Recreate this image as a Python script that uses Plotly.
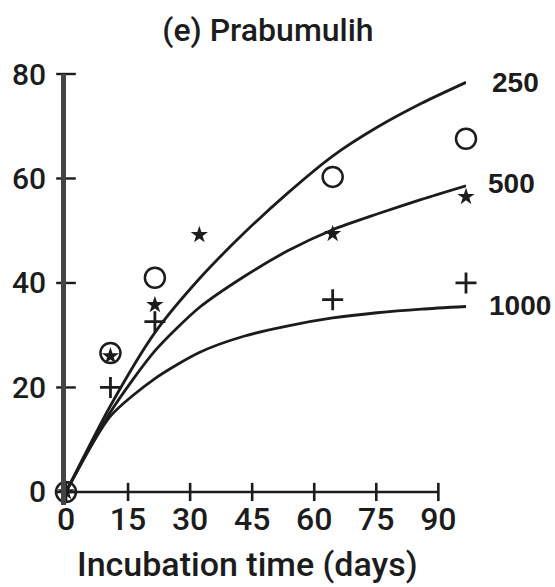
import plotly.graph_objects as go

# ---- data ----
OBS_DAYS = [0, 10, 20, 30, 60, 90]
OBS_250 = [0, 26.6, 41.0, None, 60.3, 67.6]
OBS_500 = [0, 26.0, 35.8, 49.2, 49.4, 56.5]
OBS_1000 = [0, 20.0, 32.6, None, 36.8, 40.0]

FIT_DAYS = [0, 10, 20, 30, 40, 50, 60, 70, 80, 90]
FIT_250 = [0, 16.5, 30.5, 40.8, 49.5, 57.3, 64.3, 69.8, 74.4, 78.4]
FIT_500 = [0, 15.3, 27.0, 35.3, 41.2, 46.2, 50.2, 53.2, 56.0, 58.6]
FIT_1000 = [0, 14.5, 21.7, 26.7, 29.8, 31.8, 33.3, 34.3, 35.0, 35.5]

X_TICKS = [0, 15, 30, 45, 60, 75, 90]
Y_TICKS = [0, 20, 40, 60, 80]
CURVE_LABELS = ["250", "500", "1000"]
TITLE = "(e) Prabumulih"
X_TITLE = "Incubation time (days)"

# ---- layout geometry ----
W, H = 555, 587
ML, MR, MT, MB = 61, 89, 74, 82
PW = W - ML - MR
PH = H - MT - MB
INK = "#1c1c1c"
FONT = "Roboto, Liberation Sans, Arial, sans-serif"
FONT_B = "Liberation Sans, Arial, sans-serif"


def px_x(p):
    return (p - ML) / PW


def px_y(p):
    return (H - MB - p) / PH


fig = go.Figure()

# fitted curves
for ys in (FIT_250, FIT_500, FIT_1000):
    fig.add_trace(go.Scatter(
        x=FIT_DAYS, y=ys, mode="lines",
        line=dict(color=INK, width=2.8, shape="spline", smoothing=0.7),
        hoverinfo="skip", showlegend=False, cliponaxis=False))

# observations
fig.add_trace(go.Scatter(
    x=OBS_DAYS, y=OBS_250, mode="markers",
    marker=dict(symbol="circle-open", size=20, color=INK, line=dict(width=2.5, color=INK)),
    showlegend=False, cliponaxis=False))
fig.add_trace(go.Scatter(
    x=OBS_DAYS, y=OBS_500, mode="markers",
    marker=dict(symbol="star", size=13, color=INK, line=dict(width=0)),
    showlegend=False, cliponaxis=False))
fig.add_trace(go.Scatter(
    x=OBS_DAYS, y=OBS_1000, mode="markers",
    marker=dict(symbol="cross-thin-open", size=15, color=INK, line=dict(width=2.8, color=INK)),
    showlegend=False, cliponaxis=False))

# drawn x axis (its own tick scale) and tick marks
fig.add_trace(go.Scatter(
    x=[X_TICKS[0], X_TICKS[-1]], y=[0, 0], xaxis="x2", yaxis="y", mode="lines",
    line=dict(color=INK, width=2.6), hoverinfo="skip", showlegend=False, cliponaxis=False))
fig.add_trace(go.Scatter(
    x=X_TICKS[1:], y=[0] * (len(X_TICKS) - 1), xaxis="x2", yaxis="y", mode="markers",
    marker=dict(symbol="line-ns-open", size=13, color=INK, line=dict(width=2.6, color=INK)),
    hoverinfo="skip", showlegend=False, cliponaxis=False))
# y tick marks crossing the axis
fig.add_trace(go.Scatter(
    x=[0] * (len(Y_TICKS) - 1), y=Y_TICKS[1:], mode="markers",
    marker=dict(symbol="line-ew-open", size=14, color=INK, line=dict(width=2.4, color=INK)),
    hoverinfo="skip", showlegend=False, cliponaxis=False))

x2_max = 90 * PW / (438 - ML)

fig.update_layout(
    width=W, height=H,
    margin=dict(l=ML, r=MR, t=MT, b=MB, pad=0),
    paper_bgcolor="white", plot_bgcolor="white",
    font=dict(family=FONT, color=INK),
    title=dict(text=TITLE, x=268 / W, xanchor="center", xref="container",
               y=1 - 30 / H, yanchor="middle", yref="container",
               font=dict(size=32, family=FONT, color=INK, weight=500)),
    xaxis=dict(range=[0, 90], showgrid=False, zeroline=False, showline=False,
               showticklabels=False, ticks=""),
    xaxis2=dict(range=[0, x2_max], overlaying="x", anchor="free", position=px_y(492),
                tickvals=X_TICKS, ticks="", showline=False, showgrid=False, zeroline=False,
                tickfont=dict(size=32, family=FONT, color=INK, weight=500), ticklabelstandoff=5),
    yaxis=dict(range=[-2.5, 80], tickvals=Y_TICKS, ticks="", showgrid=False, zeroline=False,
               showline=True, linewidth=5, linecolor="#444444",
               tickfont=dict(size=30, family=FONT, color=INK, weight=500), ticklabelstandoff=9),
)

label_pos = [(490, 82), (486, 183), (487, 305)]
for txt, (lx, ly) in zip(CURVE_LABELS, label_pos):
    fig.add_annotation(text=txt, xref="paper", yref="paper", x=px_x(lx), y=px_y(ly),
                       xanchor="left", yanchor="middle", showarrow=False,
                       font=dict(size=28, family=FONT_B, color=INK, weight="bold"))

fig.add_annotation(text=X_TITLE, xref="paper", yref="paper", x=px_x(245), y=px_y(564),
                   xanchor="center", yanchor="middle", showarrow=False,
                   font=dict(size=34, family=FONT, color=INK, weight=500))

fig.write_html("out.html")
